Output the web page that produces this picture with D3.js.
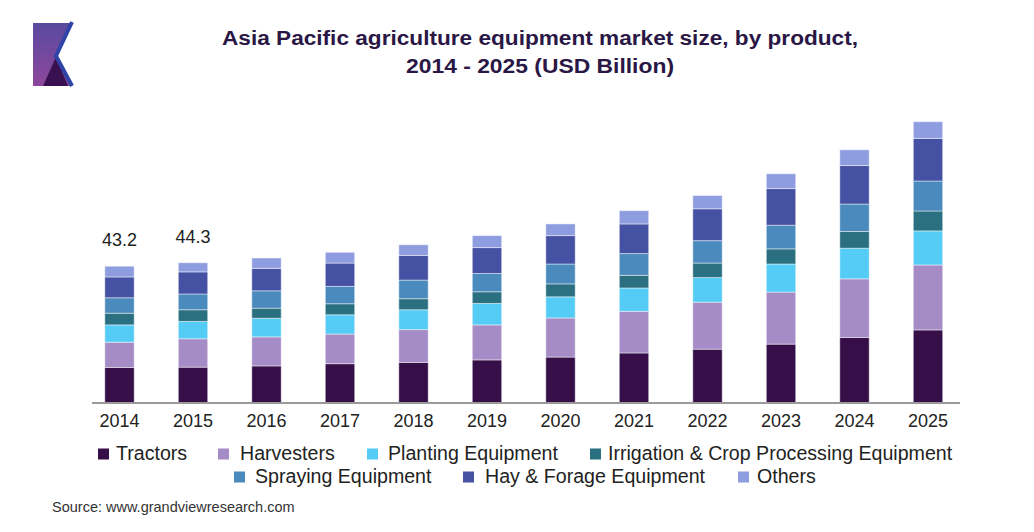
<!DOCTYPE html>
<html lang="en">

<head>
  <meta charset="UTF-8" />
  <title>Asia Pacific agriculture equipment market size</title>
  <script src="https://d3js.org/d3.v7.min.js"></script>
  <style>
    body { margin: 0; background: #fff; }
    svg text { font-family: "Liberation Sans", Arial, sans-serif; }
  </style>
</head>

<body>
  <svg id="chart" width="1034" height="532"></svg>

  <script>
    // data (USD Billion)
    const years = ["2014", "2015", "2016", "2017", "2018", "2019", "2020", "2021", "2022", "2023", "2024", "2025"];
    const seriesNames = ["Tractors", "Harvesters", "Planting Equipment", "Irrigation & Crop Processing Equipment",
      "Spraying Equipment", "Hay & Forage Equipment", "Others"];

    const tractors   = [11.1, 11.2, 11.6, 12.3, 12.7, 13.5, 14.4, 15.7, 16.9, 18.5, 20.6, 23.0];
    const harvesters = [8.0, 9.0, 9.2, 9.4, 10.4, 11.1, 12.4, 13.2, 14.9, 16.5, 18.6, 20.6];
    const planting   = [5.5, 5.5, 5.9, 6.1, 6.3, 6.8, 6.7, 7.4, 7.8, 8.9, 9.7, 10.8];
    const irrigation = [3.7, 3.7, 3.2, 3.5, 3.5, 3.7, 4.1, 4.0, 4.6, 4.8, 5.3, 6.3];
    const spraying   = [4.9, 5.0, 5.5, 5.5, 5.9, 5.8, 6.3, 6.9, 7.1, 7.5, 8.7, 9.5];
    const hay        = [6.6, 7.0, 7.1, 7.4, 7.8, 8.2, 9.0, 9.4, 10.1, 11.6, 12.2, 13.5];
    const others     = [3.4, 2.9, 3.3, 3.4, 3.4, 3.8, 3.7, 4.2, 4.2, 4.7, 5.0, 5.3];

    const labelledYears = ["2014", "2015"];

    const colors = ["#360f48", "#a68cc6", "#55ccf5", "#2b7080", "#4a8abd", "#4551a3", "#8e9de0"];

    // legend layout: [square x, text x, row]
    const legendPos = [[98, 116, 0], [218, 240, 0], [367, 388, 0], [590, 608, 0],
      [234, 255, 1], [463, 485, 1], [738, 757, 1]];

    const svg = d3.select("#chart");

    // table for d3.stack
    const allSeries = [tractors, harvesters, planting, irrigation, spraying, hay, others];
    const table = years.map((yr, i) => {
      const row = { year: yr };
      seriesNames.forEach((name, k) => { row[name] = allSeries[k][i]; });
      return row;
    });
    const stacked = d3.stack().keys(seriesNames)(table);

    const x = d3.scaleBand().domain(years).range([82.75, 964.75]).paddingInner(0.6).paddingOuter(0.3);
    const y = d3.scaleLinear().domain([0, 90]).range([402.5, 402.5 - 90 * 3.155]);

    // header: logo + rule
    const defs = svg.append("defs");
    const lg = defs.append("linearGradient").attr("id", "logoGrad")
      .attr("x1", 0).attr("y1", 0).attr("x2", 0).attr("y2", 1);
    lg.append("stop").attr("offset", "0%").attr("stop-color", "#5a4aa0");
    lg.append("stop").attr("offset", "100%").attr("stop-color", "#8d479c");
    const rg = defs.append("linearGradient").attr("id", "ruleGrad")
      .attr("x1", 0).attr("y1", 0).attr("x2", 1).attr("y2", 0);
    rg.append("stop").attr("offset", "0%").attr("stop-color", "#3a3f9f");
    rg.append("stop").attr("offset", "100%").attr("stop-color", "#8c3f9c");

    svg.append("polygon")
      .attr("points", "33,23 71,23 56,56 71,86 33,86")
      .attr("fill", "url(#logoGrad)");
    svg.append("polygon")
      .attr("points", "43,86 56,57 68,86")
      .attr("fill", "#3a1150");
    svg.append("polyline")
      .attr("points", "72,22 56,56 72,86")
      .attr("fill", "none")
      .attr("stroke", "#2f44a6")
      .attr("stroke-width", 4);
    svg.append("line")
      .attr("x1", 33).attr("x2", 1018).attr("y1", 86).attr("y2", 86)
      .attr("stroke", "url(#ruleGrad)")
      .attr("stroke-width", 3);

    // title (the original is a bit stretched sideways)
    const title = svg.append("text")
      .attr("text-anchor", "middle")
      .attr("font-size", 20)
      .attr("font-weight", "bold")
      .attr("fill", "#2a1745");
    title.append("tspan").attr("x", 540).attr("y", 45)
      .attr("textLength", 636).attr("lengthAdjust", "spacingAndGlyphs")
      .text("Asia Pacific agriculture equipment market size, by product,");
    title.append("tspan").attr("x", 540).attr("y", 73)
      .attr("textLength", 268).attr("lengthAdjust", "spacingAndGlyphs")
      .text("2014 - 2025 (USD Billion)");

    // bars
    svg.append("g")
      .selectAll("g")
      .data(stacked)
      .join("g")
      .attr("fill", (d, i) => colors[i])
      .selectAll("rect")
      .data(d => d)
      .join("rect")
      .attr("x", d => x(d.data.year))
      .attr("y", d => y(d[1]))
      .attr("width", x.bandwidth())
      .attr("height", d => y(d[0]) - y(d[1]))
      .attr("stroke", "#ffffff")
      .attr("stroke-opacity", 0.45)
      .attr("stroke-width", 1);

    // baseline + year labels
    svg.append("line")
      .attr("x1", 92).attr("x2", 960)
      .attr("y1", 403).attr("y2", 403)
      .attr("stroke", "#9a9a9a")
      .attr("stroke-width", 2);

    const xAxis = svg.append("g")
      .attr("transform", "translate(0,403)")
      .call(d3.axisBottom(x).tickSize(0));
    xAxis.select(".domain").remove();
    xAxis.selectAll("text")
      .attr("y", 24).attr("dy", null)
      .attr("font-size", 18)
      .attr("fill", "#222");

    // totals on first bars
    const totals = table.map(r => d3.sum(seriesNames, k => r[k]));
    svg.append("g")
      .selectAll("text")
      .data(years.filter(yr => labelledYears.includes(yr)))
      .join("text")
      .attr("x", yr => x(yr) + x.bandwidth() / 2)
      .attr("y", yr => y(totals[years.indexOf(yr)]) - 20)
      .attr("text-anchor", "middle")
      .attr("font-size", 18)
      .attr("fill", "#222")
      .text(yr => totals[years.indexOf(yr)].toFixed(1));

    // legend
    const legend = svg.append("g")
      .selectAll("g")
      .data(seriesNames)
      .join("g");
    legend.append("rect")
      .attr("x", (d, i) => legendPos[i][0])
      .attr("y", (d, i) => legendPos[i][2] === 0 ? 448.5 : 471.5)
      .attr("width", 11).attr("height", 11)
      .attr("fill", (d, i) => colors[i]);
    legend.append("text")
      .attr("x", (d, i) => legendPos[i][1])
      .attr("y", (d, i) => legendPos[i][2] === 0 ? 459.5 : 482.5)
      .attr("font-size", 19.6)
      .attr("fill", "#222")
      .text(d => d);

    // source
    svg.append("text")
      .attr("x", 52).attr("y", 511.5)
      .attr("font-size", 14.5)
      .attr("fill", "#333")
      .text("Source: www.grandviewresearch.com");
  </script>
</body>

</html>
